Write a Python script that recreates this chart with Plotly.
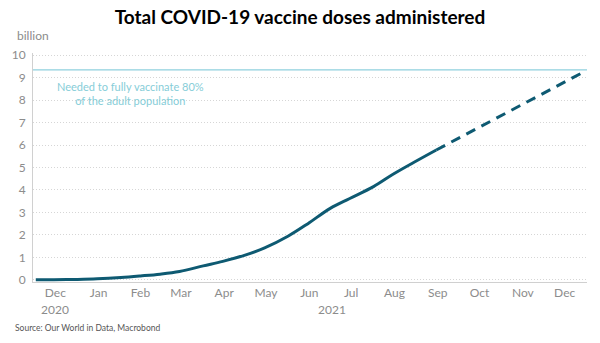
import plotly.graph_objects as go

# Actual cumulative doses (billion)
actual_dates = ["2020-12-02", "2020-12-15", "2021-01-01", "2021-01-15", "2021-02-01", "2021-02-15",
                "2021-03-01", "2021-03-15", "2021-04-01", "2021-04-15", "2021-05-01", "2021-05-15",
                "2021-06-01", "2021-06-15", "2021-07-01", "2021-07-15", "2021-08-01", "2021-08-15",
                "2021-09-01", "2021-09-15"]
actual_vals = [0.0, 0.002, 0.015, 0.04, 0.10, 0.17, 0.25, 0.37, 0.62, 0.82, 1.10, 1.42,
               1.95, 2.50, 3.18, 3.62, 4.15, 4.70, 5.30, 5.78]

# Projection (dashed)
proj_dates = ["2021-09-15", "2021-12-31"]
proj_vals = [5.78, 9.3]

target = 9.35

month_ticks = ["2020-12-16", "2021-01-16", "2021-02-15", "2021-03-16", "2021-04-16", "2021-05-16",
               "2021-06-16", "2021-07-16", "2021-08-16", "2021-09-16", "2021-10-16", "2021-11-16",
               "2021-12-16"]
month_labels = ["Dec", "Jan", "Feb", "Mar", "Apr", "May", "Jun", "Jul", "Aug", "Sep", "Oct", "Nov", "Dec"]
year_pos = ["2020-12-16", "2021-07-02"]
year_labels = ["2020", "2021"]

FONT = "Lato"
LINE = "#0e5a72"
GRAY = "#8c8c8c"

fig = go.Figure()
fig.add_trace(go.Scatter(x=actual_dates, y=actual_vals, mode="lines", line=dict(color=LINE, width=3, shape="spline"),
                         showlegend=False, hoverinfo="skip"))
fig.add_trace(go.Scatter(x=proj_dates, y=proj_vals, mode="lines", line=dict(color=LINE, width=3, dash="10px,7px"),
                         showlegend=False, hoverinfo="skip"))

fig.add_shape(type="line", xref="paper", x0=0, x1=1, yref="y", y0=target, y1=target,
              line=dict(color="#8fd0de", width=1.3))

annotations = [
    dict(text="Needed to fully vaccinate 80%<br>of the adult population", xref="paper", yref="y",
         x=0.176, y=8.3, xanchor="center", yanchor="middle", showarrow=False, align="center",
         font=dict(family=FONT, size=11, color="#86cdd8")),
    dict(text="billion", xref="paper", yref="paper", x=-0.033, y=1.035, xanchor="left",
         yanchor="bottom", showarrow=False, font=dict(family=FONT, size=12, color=GRAY)),
]
for xp, lab in zip(year_pos, year_labels):
    annotations.append(dict(text=lab, xref="x", yref="paper", x=xp, y=-0.122, yanchor="middle",
                            showarrow=False, font=dict(family=FONT, size=12, color=GRAY)))
annotations.append(dict(text="Source: Our World in Data, Macrobond", xref="paper", yref="paper",
                        x=-0.037, y=-0.2, xanchor="left", yanchor="middle", showarrow=False,
                        font=dict(family=FONT, size=8.5, color="#555555")))

fig.update_layout(
    width=600, height=343,
    margin=dict(l=29, r=13, t=53, b=61),
    paper_bgcolor="white", plot_bgcolor="white",
    title=dict(text="<b>Total COVID-19 vaccine doses administered</b>", x=0.5, xanchor="center",
               y=0.948, yanchor="middle", font=dict(family=FONT, size=19, color="#000000")),
    annotations=annotations,
    xaxis=dict(type="date", range=["2020-11-30", "2022-01-01"], tickvals=month_ticks, ticktext=month_labels,
               showgrid=False, showline=True, linecolor="#d0d0d0", linewidth=1, ticks="",
               tickfont=dict(family=FONT, size=12, color=GRAY), zeroline=False, fixedrange=True),
    yaxis=dict(range=[-0.1, 10.1], tickvals=list(range(0, 11)), showgrid=True, gridcolor="#d6d6d6",
               griddash="1px,2px", gridwidth=1, showline=True, linecolor="#d0d0d0", linewidth=1, ticks="",
               zeroline=False, ticklabelstandoff=4, tickfont=dict(family=FONT, size=12, color=GRAY)),
)

fig.write_html("out.html")
